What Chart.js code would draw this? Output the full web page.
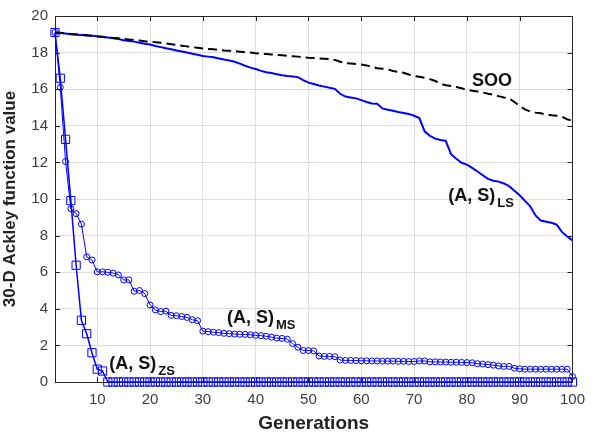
<!DOCTYPE html>
<html>
<head>
<meta charset="utf-8">
<script src="https://cdn.jsdelivr.net/npm/chart.js@4/dist/chart.umd.min.js"></script>
<style>
  html, body { margin: 0; padding: 0; background: #fff; }
  #wrap { width: 594px; height: 435px; }
</style>
</head>
<body>
<div id="wrap"><canvas id="c" width="594" height="435"></canvas></div>
<script>
// ---- data ----
const generations = [];
for (let g = 2; g <= 100; g++) generations.push(g);

const xTicks = [10, 20, 30, 40, 50, 60, 70, 80, 90, 100];

const sooValues = [
  19.1, 19.08, 19.05, 19.02, 19.0, 18.98, 18.95, 18.92, 18.88, 18.85,
  18.82, 18.8, 18.78, 18.75, 18.72, 18.7, 18.66, 18.62, 18.6, 18.57,
  18.54, 18.5, 18.46, 18.42, 18.38, 18.34, 18.3, 18.26, 18.22, 18.2,
  18.18, 18.15, 18.12, 18.1, 18.08, 18.05, 18.02, 18.0, 17.97, 17.94,
  17.92, 17.9, 17.88, 17.85, 17.82, 17.8, 17.78, 17.75, 17.72, 17.7,
  17.68, 17.66, 17.64, 17.6, 17.5, 17.42, 17.4, 17.38, 17.35, 17.3,
  17.22, 17.15, 17.12, 17.08, 17.0, 16.95, 16.9, 16.8, 16.72, 16.68,
  16.62, 16.55, 16.45, 16.3, 16.22, 16.18, 16.12, 16.05, 15.97, 15.92,
  15.88, 15.82, 15.75, 15.7, 15.62, 15.55, 15.5, 15.3, 15.08, 14.9,
  14.78, 14.72, 14.68, 14.62, 14.58, 14.55, 14.5, 14.35, 14.28
];

const lsValues = [
  19.1, 19.07, 19.04, 19.0, 18.98, 18.96, 18.94, 18.92, 18.9, 18.86,
  18.82, 18.78, 18.74, 18.68, 18.64, 18.6, 18.54, 18.48, 18.44, 18.36,
  18.3, 18.24, 18.18, 18.12, 18.06, 18.0, 17.94, 17.88, 17.82, 17.78,
  17.74, 17.68, 17.62, 17.57, 17.5, 17.4, 17.28, 17.18, 17.1, 17.0,
  16.93, 16.88, 16.82, 16.76, 16.72, 16.7, 16.66, 16.5, 16.36, 16.28,
  16.2, 16.14, 16.08, 16.02, 15.75, 15.6, 15.55, 15.5, 15.4, 15.3,
  15.22, 15.2, 14.95, 14.88, 14.82, 14.75, 14.7, 14.65, 14.55, 14.42,
  13.7, 13.45, 13.3, 13.22, 13.18, 12.45, 12.2, 11.98, 11.88, 11.7,
  11.5, 11.3, 11.1, 11.0, 10.95, 10.85, 10.7, 10.45, 10.2, 9.9,
  9.6, 9.1, 8.82, 8.76, 8.7, 8.6, 8.2, 7.95, 7.74
];

const msValues = [
  19.1, 16.1, 12.05, 9.47, 9.2, 8.63, 6.84, 6.67, 6.02, 6.02,
  6.0, 5.95, 5.85, 5.58, 5.58, 4.96, 5.0, 4.83, 4.21, 3.94,
  3.85, 3.87, 3.64, 3.62, 3.58, 3.53, 3.4, 3.35, 2.78, 2.75,
  2.72, 2.7, 2.66, 2.64, 2.62, 2.61, 2.6, 2.58, 2.55, 2.53,
  2.5, 2.45, 2.4, 2.38, 2.34, 2.1, 1.9, 1.72, 1.72, 1.7,
  1.42, 1.4, 1.4, 1.38, 1.2, 1.18, 1.18, 1.17, 1.16, 1.16,
  1.15, 1.15, 1.14, 1.14, 1.14, 1.13, 1.13, 1.12, 1.12, 1.15,
  1.15, 1.1, 1.1, 1.09, 1.09, 1.08, 1.08, 1.07, 1.06, 1.05,
  1.0, 0.98, 0.95, 0.92, 0.88, 0.85, 0.85, 0.75, 0.72, 0.7,
  0.7, 0.7, 0.7, 0.7, 0.7, 0.7, 0.7, 0.7, 0.3
];

const zsValues = [
  19.1, 16.6, 13.26, 9.91, 6.38, 3.37, 2.64, 1.6, 0.7, 0.6,
  0, 0, 0, 0, 0, 0, 0, 0, 0, 0,
  0, 0, 0, 0, 0, 0, 0, 0, 0, 0,
  0, 0, 0, 0, 0, 0, 0, 0, 0, 0,
  0, 0, 0, 0, 0, 0, 0, 0, 0, 0,
  0, 0, 0, 0, 0, 0, 0, 0, 0, 0,
  0, 0, 0, 0, 0, 0, 0, 0, 0, 0,
  0, 0, 0, 0, 0, 0, 0, 0, 0, 0,
  0, 0, 0, 0, 0, 0, 0, 0, 0, 0,
  0, 0, 0, 0, 0, 0, 0, 0, 0
];

// curve labels: main text, subscript, anchor in data space
const labelMain = ['SOO', '(A, S)', '(A, S)', '(A, S)'];
const labelSub  = ['', 'LS', 'MS', 'ZS'];
const labelX    = [80.96, 76.47, 34.56, 12.29];
const labelY    = [16.15, 9.89, 3.21, 0.70];

const FONT = "'Liberation Sans', Arial, Helvetica, sans-serif";

function pairs(vals) { return generations.map((g, i) => ({ x: g, y: vals[i] })); }

const framePlugin = {
  id: 'frame',
  beforeDatasetsDraw(chart) {
    const { ctx, chartArea: a, scales } = chart;
    ctx.save();
    ctx.strokeStyle = '#262626';
    ctx.lineWidth = 1;
    ctx.beginPath();
    const L = 5;
    xTicks.forEach(v => {
      const px = Math.round(scales.x.getPixelForValue(v)) + 0.5;
      ctx.moveTo(px, a.bottom); ctx.lineTo(px, a.bottom - L);
      ctx.moveTo(px, a.top); ctx.lineTo(px, a.top + L);
    });
    scales.y.ticks.forEach(t => {
      const py = Math.round(scales.y.getPixelForValue(t.value)) + 0.5;
      ctx.moveTo(a.left, py); ctx.lineTo(a.left + L, py);
      ctx.moveTo(a.right, py); ctx.lineTo(a.right - L, py);
    });
    ctx.stroke();
    ctx.strokeRect(Math.round(a.left) + 0.5, Math.round(a.top) + 0.5,
                   Math.round(a.right - a.left), Math.round(a.bottom - a.top));
    ctx.restore();
  },
  afterDatasetsDraw(chart) {
    const { ctx, scales } = chart;
    ctx.save();
    ctx.fillStyle = '#111';
    ctx.textBaseline = 'alphabetic';
    ctx.textAlign = 'left';
    labelMain.forEach((txt, i) => {
      const px = scales.x.getPixelForValue(labelX[i]);
      const py = scales.y.getPixelForValue(labelY[i]);
      ctx.font = "bold 18px " + FONT;
      ctx.fillText(txt, px, py);
      if (labelSub[i]) {
        const w = ctx.measureText(txt).width;
        ctx.font = "bold 13px " + FONT;
        ctx.fillText(labelSub[i], px + w + 2, py + 6);
      }
    });
    ctx.restore();
  }
};

new Chart(document.getElementById('c'), {
  type: 'line',
  data: {
    datasets: [
      {
        label: '(A, S)ZS', data: pairs(zsValues),
        borderColor: '#0000ff', borderWidth: 1.5,
        pointStyle: 'rect', pointRadius: 5.8, pointBorderWidth: 1,
        pointBackgroundColor: 'rgba(0,0,0,0)', pointBorderColor: '#0000ff',
        tension: 0, clip: false
      },
      {
        label: '(A, S)MS', data: pairs(msValues),
        borderColor: '#0000ff', borderWidth: 1,
        pointStyle: 'circle', pointRadius: 3, pointBorderWidth: 1,
        pointBackgroundColor: 'rgba(0,0,0,0)', pointBorderColor: '#0000ff',
        tension: 0, clip: false
      },
      {
        label: 'SOO', data: pairs(sooValues),
        borderColor: '#000000', borderWidth: 2, borderDash: [9, 5],
        pointRadius: 0, tension: 0, clip: false
      },
      {
        label: '(A, S)LS', data: pairs(lsValues),
        borderColor: '#0000ff', borderWidth: 2,
        pointRadius: 0, tension: 0, clip: false
      }
    ]
  },
  options: {
    responsive: false,
    animation: false,
    devicePixelRatio: 1,
    layout: { autoPadding: false, padding: { top: 9, right: 15, left: 0, bottom: 0 } },
    plugins: { legend: { display: false }, tooltip: { enabled: false } },
    scales: {
      x: {
        type: 'linear', min: 2, max: 100,
        afterBuildTicks: (axis) => { axis.ticks = xTicks.map(v => ({ value: v })); },
        afterFit: (s) => { s.height = 53; },
        grid: { color: '#dedede', lineWidth: 1, drawTicks: false },
        border: { display: false },
        ticks: { color: '#3c3c3c', font: { family: FONT, size: 15 }, padding: 9, maxRotation: 0, autoSkip: false },
        title: { display: true, text: 'Generations', color: '#222', font: { family: FONT, size: 19, weight: 'bold' }, padding: { top: 2, bottom: 0 } }
      },
      y: {
        min: 0, max: 20,
        afterFit: (s) => { s.width = 55; },
        grid: { color: '#dedede', lineWidth: 1, drawTicks: false },
        border: { display: false },
        ticks: { stepSize: 2, color: '#3c3c3c', font: { family: FONT, size: 15 }, padding: 7 },
        title: { display: true, text: '30-D Ackley function value', color: '#222', font: { family: FONT, size: 17, weight: 'bold' }, padding: { top: 0, bottom: 2 } }
      }
    }
  },
  plugins: [framePlugin]
});
</script>
</body>
</html>
